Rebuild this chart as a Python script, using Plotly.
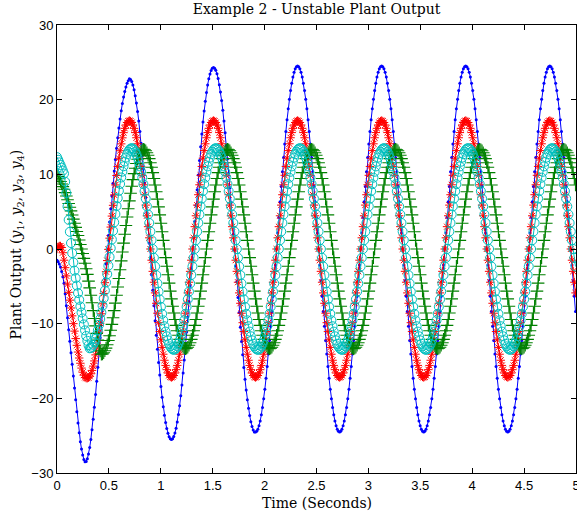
import plotly.graph_objects as go

# Sample times (seconds)
time_s = [
    0.0, 0.01125, 0.0225, 0.03375, 0.045, 0.05625, 0.0675, 0.07875,
    0.09, 0.10125, 0.1125, 0.12375, 0.135, 0.14625, 0.1575, 0.16875,
    0.18, 0.19125, 0.2025, 0.21375, 0.225, 0.23625, 0.2475, 0.25875,
    0.27, 0.28125, 0.2925, 0.30375, 0.315, 0.32625, 0.3375, 0.34875,
    0.36, 0.37125, 0.3825, 0.39375, 0.405, 0.41625, 0.4275, 0.43875,
    0.45, 0.46125, 0.4725, 0.48375, 0.495, 0.50625, 0.5175, 0.52875,
    0.54, 0.55125, 0.5625, 0.57375, 0.585, 0.59625, 0.6075, 0.61875,
    0.63, 0.64125, 0.6525, 0.66375, 0.675, 0.68625, 0.6975, 0.70875,
    0.72, 0.73125, 0.7425, 0.75375, 0.765, 0.77625, 0.7875, 0.79875,
    0.81, 0.82125, 0.8325, 0.84375, 0.855, 0.86625, 0.8775, 0.88875,
    0.9, 0.91125, 0.9225, 0.93375, 0.945, 0.95625, 0.9675, 0.97875,
    0.99, 1.00125, 1.0125, 1.02375, 1.035, 1.04625, 1.0575, 1.06875,
    1.08, 1.09125, 1.1025, 1.11375, 1.125, 1.13625, 1.1475, 1.15875,
    1.17, 1.18125, 1.1925, 1.20375, 1.215, 1.22625, 1.2375, 1.24875,
    1.26, 1.27125, 1.2825, 1.29375, 1.305, 1.31625, 1.3275, 1.33875,
    1.35, 1.36125, 1.3725, 1.38375, 1.395, 1.40625, 1.4175, 1.42875,
    1.44, 1.45125, 1.4625, 1.47375, 1.485, 1.49625, 1.5075, 1.51875,
    1.53, 1.54125, 1.5525, 1.56375, 1.575, 1.58625, 1.5975, 1.60875,
    1.62, 1.63125, 1.6425, 1.65375, 1.665, 1.67625, 1.6875, 1.69875,
    1.71, 1.72125, 1.7325, 1.74375, 1.755, 1.76625, 1.7775, 1.78875,
    1.8, 1.81125, 1.8225, 1.83375, 1.845, 1.85625, 1.8675, 1.87875,
    1.89, 1.90125, 1.9125, 1.92375, 1.935, 1.94625, 1.9575, 1.96875,
    1.98, 1.99125, 2.0025, 2.01375, 2.025, 2.03625, 2.0475, 2.05875,
    2.07, 2.08125, 2.0925, 2.10375, 2.115, 2.12625, 2.1375, 2.14875,
    2.16, 2.17125, 2.1825, 2.19375, 2.205, 2.21625, 2.2275, 2.23875,
    2.25, 2.26125, 2.2725, 2.28375, 2.295, 2.30625, 2.3175, 2.32875,
    2.34, 2.35125, 2.3625, 2.37375, 2.385, 2.39625, 2.4075, 2.41875,
    2.43, 2.44125, 2.4525, 2.46375, 2.475, 2.48625, 2.4975, 2.50875,
    2.52, 2.53125, 2.5425, 2.55375, 2.565, 2.57625, 2.5875, 2.59875,
    2.61, 2.62125, 2.6325, 2.64375, 2.655, 2.66625, 2.6775, 2.68875,
    2.7, 2.71125, 2.7225, 2.73375, 2.745, 2.75625, 2.7675, 2.77875,
    2.79, 2.80125, 2.8125, 2.82375, 2.835, 2.84625, 2.8575, 2.86875,
    2.88, 2.89125, 2.9025, 2.91375, 2.925, 2.93625, 2.9475, 2.95875,
    2.97, 2.98125, 2.9925, 3.00375, 3.015, 3.02625, 3.0375, 3.04875,
    3.06, 3.07125, 3.0825, 3.09375, 3.105, 3.11625, 3.1275, 3.13875,
    3.15, 3.16125, 3.1725, 3.18375, 3.195, 3.20625, 3.2175, 3.22875,
    3.24, 3.25125, 3.2625, 3.27375, 3.285, 3.29625, 3.3075, 3.31875,
    3.33, 3.34125, 3.3525, 3.36375, 3.375, 3.38625, 3.3975, 3.40875,
    3.42, 3.43125, 3.4425, 3.45375, 3.465, 3.47625, 3.4875, 3.49875,
    3.51, 3.52125, 3.5325, 3.54375, 3.555, 3.56625, 3.5775, 3.58875,
    3.6, 3.61125, 3.6225, 3.63375, 3.645, 3.65625, 3.6675, 3.67875,
    3.69, 3.70125, 3.7125, 3.72375, 3.735, 3.74625, 3.7575, 3.76875,
    3.78, 3.79125, 3.8025, 3.81375, 3.825, 3.83625, 3.8475, 3.85875,
    3.87, 3.88125, 3.8925, 3.90375, 3.915, 3.92625, 3.9375, 3.94875,
    3.96, 3.97125, 3.9825, 3.99375, 4.005, 4.01625, 4.0275, 4.03875,
    4.05, 4.06125, 4.0725, 4.08375, 4.095, 4.10625, 4.1175, 4.12875,
    4.14, 4.15125, 4.1625, 4.17375, 4.185, 4.19625, 4.2075, 4.21875,
    4.23, 4.24125, 4.2525, 4.26375, 4.275, 4.28625, 4.2975, 4.30875,
    4.32, 4.33125, 4.3425, 4.35375, 4.365, 4.37625, 4.3875, 4.39875,
    4.41, 4.42125, 4.4325, 4.44375, 4.455, 4.46625, 4.4775, 4.48875,
    4.5, 4.51125, 4.5225, 4.53375, 4.545, 4.55625, 4.5675, 4.57875,
    4.59, 4.60125, 4.6125, 4.62375, 4.635, 4.64625, 4.6575, 4.66875,
    4.68, 4.69125, 4.7025, 4.71375, 4.725, 4.73625, 4.7475, 4.75875,
    4.77, 4.78125, 4.7925, 4.80375, 4.815, 4.82625, 4.8375, 4.84875,
    4.86, 4.87125, 4.8825, 4.89375, 4.905, 4.91625, 4.9275, 4.93875,
    4.95, 4.96125, 4.9725, 4.98375, 4.995,
]

# y1 (blue, dots)
y1 = [
    -1.5, -1.7, -2.0, -2.4, -3.0, -3.7, -4.6, -6.0, -7.6, -9.2, -10.8, -12.35, -13.9,
    -15.45, -17.0, -18.6, -20.2, -21.8, -23.3, -24.6, -25.8, -26.8, -27.6, -28.2, -28.5,
    -28.45, -28.1, -27.45, -26.6, -25.5, -24.2, -22.8, -21.2, -19.5, -17.7, -15.85, -13.9,
    -11.9, -9.9, -7.9, -5.9, -3.95, -2.0, -0.1, 1.8, 3.6, 5.4, 7.1, 8.8, 10.45, 12.0,
    13.5, 14.9, 16.2, 17.4, 18.5, 19.5, 20.35, 21.1, 21.7, 22.2, 22.55, 22.8,
    22.71, 22.43, 21.98, 21.34, 20.54, 19.56, 18.43, 17.15, 15.73, 14.17, 12.5, 10.73,
    8.86, 6.91, 4.9, 2.84, 0.76, -1.35,
    -3.46, -5.54, -7.6, -9.61, -11.56, -13.43, -15.2, -16.87, -18.43, -19.85, -21.13,
    -22.26, -23.24, -24.04, -24.68, -25.13, -25.41, -25.5,
    -25.41, -25.12, -24.65, -24.0, -23.17, -22.16, -21.0, -19.67, -18.21, -16.61, -14.88,
    -13.05, -11.12, -9.12, -7.04, -4.92, -2.77, -0.6,
    1.57, 3.72, 5.84, 7.92, 9.92, 11.85, 13.68, 15.41, 17.01, 18.47, 19.8, 20.96, 21.97,
    22.8, 23.45, 23.92, 24.21, 24.3,
    24.21, 23.93, 23.47, 22.83, 22.01, 21.02, 19.88, 18.58, 17.14, 15.57, 13.87, 12.08,
    10.18, 8.21, 6.18, 4.09, 1.98, -0.15,
    -2.28, -4.39, -6.48, -8.51, -10.48, -12.38, -14.17, -15.87, -17.44, -18.88, -20.18,
    -21.32, -22.31, -23.13, -23.77, -24.23, -24.51,
    -24.5,
    -24.41, -24.13, -23.66, -23.02, -22.2, -21.22, -20.07, -18.77, -17.32, -15.75, -14.05, -12.25, -10.35, -8.38, -6.34, -4.25, -2.14, 0.0,
    2.14, 4.25, 6.34, 8.38, 10.35, 12.25, 14.05, 15.75, 17.32, 18.77, 20.07, 21.22, 22.2, 23.02, 23.66, 24.13, 24.41,
    24.5, 24.41, 24.13, 23.66, 23.02, 22.2, 21.22, 20.07, 18.77, 17.32, 15.75, 14.05, 12.25, 10.35, 8.38, 6.34, 4.25, 2.14, 0.0,
    -2.14, -4.25, -6.34, -8.38, -10.35, -12.25, -14.05, -15.75, -17.32, -18.77, -20.07, -21.22, -22.2, -23.02, -23.66, -24.13, -24.41, -24.5,
    -24.41, -24.13, -23.66, -23.02, -22.2, -21.22, -20.07, -18.77, -17.32, -15.75, -14.05, -12.25, -10.35, -8.38, -6.34, -4.25, -2.14, 0.0,
    2.14, 4.25, 6.34, 8.38, 10.35, 12.25, 14.05, 15.75, 17.32, 18.77, 20.07, 21.22, 22.2, 23.02, 23.66, 24.13, 24.41,
    24.5, 24.41, 24.13, 23.66, 23.02, 22.2, 21.22, 20.07, 18.77, 17.32, 15.75, 14.05, 12.25, 10.35, 8.38, 6.34, 4.25, 2.14, 0.0,
    -2.14, -4.25, -6.34, -8.38, -10.35, -12.25, -14.05, -15.75, -17.32, -18.77, -20.07, -21.22, -22.2, -23.02, -23.66, -24.13, -24.41, -24.5,
    -24.41, -24.13, -23.66, -23.02, -22.2, -21.22, -20.07, -18.77, -17.32, -15.75, -14.05, -12.25, -10.35, -8.38, -6.34, -4.25, -2.14, 0.0,
    2.14, 4.25, 6.34, 8.38, 10.35, 12.25, 14.05, 15.75, 17.32, 18.77, 20.07, 21.22, 22.2, 23.02, 23.66, 24.13, 24.41,
    24.5, 24.41, 24.13, 23.66, 23.02, 22.2, 21.22, 20.07, 18.77, 17.32, 15.75, 14.05, 12.25, 10.35, 8.38, 6.34, 4.25, 2.14, 0.0,
    -2.14, -4.25, -6.34, -8.38, -10.35, -12.25, -14.05, -15.75, -17.32, -18.77, -20.07, -21.22, -22.2, -23.02, -23.66, -24.13, -24.41, -24.5,
    -24.41, -24.13, -23.66, -23.02, -22.2, -21.22, -20.07, -18.77, -17.32, -15.75, -14.05, -12.25, -10.35, -8.38, -6.34, -4.25, -2.14, 0.0,
    2.14, 4.25, 6.34, 8.38, 10.35, 12.25, 14.05, 15.75, 17.32, 18.77, 20.07, 21.22, 22.2, 23.02, 23.66, 24.13, 24.41,
    24.5, 24.41, 24.13, 23.66, 23.02, 22.2, 21.22, 20.07, 18.77, 17.32, 15.75, 14.05, 12.25, 10.35, 8.38, 6.34, 4.25, 2.14, 0.0,
    -2.14, -4.25, -6.34, -8.38,
]

# y2 (red, asterisks)
y2 = [
    0.0, 0.3, 0.4, 0.4, 0.2, -0.5, -1.5, -2.5, -3.6, -4.7, -5.8, -6.85, -7.9, -8.95, -10.0,
    -11.0, -12.0, -12.9, -13.8, -14.6, -15.3, -15.95, -16.5, -16.9, -17.2, -17.3, -17.3,
    -17.23, -17.04, -16.71, -16.26, -15.68, -14.99, -14.18, -13.26, -12.25, -11.14, -9.94,
    -8.68, -7.34, -5.95, -4.51, -3.04, -1.55, -0.05,
    1.45, 2.94, 4.41, 5.85, 7.24, 8.58, 9.84, 11.04, 12.15, 13.16, 14.08, 14.89, 15.58,
    16.16, 16.61, 16.94, 17.13,
    17.2, 17.13, 16.94, 16.61, 16.16, 15.59, 14.9, 14.09, 13.18, 12.16, 11.06, 9.87, 8.6, 7.27, 5.88, 4.45, 2.99, 1.5, 0.0,
    -1.5, -2.99, -4.45, -5.88, -7.27, -8.6, -9.87, -11.06, -12.16, -13.18, -14.09, -14.9, -15.59, -16.16, -16.61, -16.94, -17.13, -17.2,
    -17.13, -16.94, -16.61, -16.16, -15.59, -14.9, -14.09, -13.18, -12.16, -11.06, -9.87, -8.6, -7.27, -5.88, -4.45, -2.99, -1.5, 0.0,
    1.5, 2.99, 4.45, 5.88, 7.27, 8.6, 9.87, 11.06, 12.16, 13.18, 14.09, 14.9, 15.59, 16.16, 16.61, 16.94, 17.13,
    17.2, 17.13, 16.94, 16.61, 16.16, 15.59, 14.9, 14.09, 13.18, 12.16, 11.06, 9.87, 8.6, 7.27, 5.88, 4.45, 2.99, 1.5, 0.0,
    -1.5, -2.99, -4.45, -5.88, -7.27, -8.6, -9.87, -11.06, -12.16, -13.18, -14.09, -14.9, -15.59, -16.16, -16.61, -16.94, -17.13, -17.2,
    -17.13, -16.94, -16.61, -16.16, -15.59, -14.9, -14.09, -13.18, -12.16, -11.06, -9.87, -8.6, -7.27, -5.88, -4.45, -2.99, -1.5, 0.0,
    1.5, 2.99, 4.45, 5.88, 7.27, 8.6, 9.87, 11.06, 12.16, 13.18, 14.09, 14.9, 15.59, 16.16, 16.61, 16.94, 17.13,
    17.2, 17.13, 16.94, 16.61, 16.16, 15.59, 14.9, 14.09, 13.18, 12.16, 11.06, 9.87, 8.6, 7.27, 5.88, 4.45, 2.99, 1.5, 0.0,
    -1.5, -2.99, -4.45, -5.88, -7.27, -8.6, -9.87, -11.06, -12.16, -13.18, -14.09, -14.9, -15.59, -16.16, -16.61, -16.94, -17.13, -17.2,
    -17.13, -16.94, -16.61, -16.16, -15.59, -14.9, -14.09, -13.18, -12.16, -11.06, -9.87, -8.6, -7.27, -5.88, -4.45, -2.99, -1.5, 0.0,
    1.5, 2.99, 4.45, 5.88, 7.27, 8.6, 9.87, 11.06, 12.16, 13.18, 14.09, 14.9, 15.59, 16.16, 16.61, 16.94, 17.13,
    17.2, 17.13, 16.94, 16.61, 16.16, 15.59, 14.9, 14.09, 13.18, 12.16, 11.06, 9.87, 8.6, 7.27, 5.88, 4.45, 2.99, 1.5, 0.0,
    -1.5, -2.99, -4.45, -5.88, -7.27, -8.6, -9.87, -11.06, -12.16, -13.18, -14.09, -14.9, -15.59, -16.16, -16.61, -16.94, -17.13, -17.2,
    -17.13, -16.94, -16.61, -16.16, -15.59, -14.9, -14.09, -13.18, -12.16, -11.06, -9.87, -8.6, -7.27, -5.88, -4.45, -2.99, -1.5, 0.0,
    1.5, 2.99, 4.45, 5.88, 7.27, 8.6, 9.87, 11.06, 12.16, 13.18, 14.09, 14.9, 15.59, 16.16, 16.61, 16.94, 17.13,
    17.2, 17.13, 16.94, 16.61, 16.16, 15.59, 14.9, 14.09, 13.18, 12.16, 11.06, 9.87, 8.6, 7.27, 5.88, 4.45, 2.99, 1.5, 0.0,
    -1.5, -2.99, -4.45, -5.88, -7.27, -8.6, -9.87, -11.06, -12.16, -13.18, -14.09, -14.9, -15.59, -16.16, -16.61, -16.94, -17.13, -17.2,
    -17.13, -16.94, -16.61, -16.16, -15.59, -14.9, -14.09, -13.18, -12.16, -11.06, -9.87, -8.6, -7.27, -5.88, -4.45, -2.99, -1.5, 0.0,
    1.5, 2.99, 4.45, 5.88, 7.27, 8.6, 9.87, 11.06, 12.16, 13.18, 14.09, 14.9, 15.59, 16.16, 16.61, 16.94, 17.13,
    17.2, 17.13, 16.94, 16.61, 16.16, 15.59, 14.9, 14.09, 13.18, 12.16, 11.06, 9.87, 8.6, 7.27, 5.88, 4.45, 2.99, 1.5, 0.0,
    -1.5, -2.99, -4.45, -5.88,
]

# y3 (green, plus signs)
y3 = [
    10.0, 9.7, 9.4, 9.05, 8.7, 8.35, 8.0, 7.55, 7.1, 6.6, 6.1, 5.6, 5.1, 4.55, 4.0, 3.45,
    2.9, 2.35, 1.8, 1.2, 0.6, 0.0, -0.6, -1.25, -1.9, -2.65, -3.4, -4.3, -5.2, -6.2, -7.2,
    -8.25, -9.3, -10.3, -11.3, -12.2, -13.0, -13.65, -14.1,
    -14.05, -13.89, -13.63, -13.27, -12.82, -12.26, -11.62, -10.89, -10.09, -9.21, -8.26,
    -7.25, -6.19, -5.09, -3.95, -2.78, -1.59, -0.4,
    0.79, 1.98, 3.15, 4.29, 5.39, 6.45, 7.46, 8.41, 9.29, 10.09, 10.82, 11.46, 12.02,
    12.47, 12.83, 13.09, 13.25,
    13.35, 13.3, 13.15, 12.89, 12.55, 12.1, 11.56, 10.94, 10.23, 9.44, 8.58, 7.66, 6.68, 5.64, 4.57, 3.45, 2.32, 1.16, 0.0,
    -1.16, -2.32, -3.45, -4.57, -5.64, -6.68, -7.66, -8.58, -9.44, -10.23, -10.94, -11.56, -12.1, -12.55, -12.89, -13.15, -13.3, -13.35,
    -13.3, -13.15, -12.89, -12.55, -12.1, -11.56, -10.94, -10.23, -9.44, -8.58, -7.66, -6.68, -5.64, -4.57, -3.45, -2.32, -1.16, 0.0,
    1.16, 2.32, 3.45, 4.57, 5.64, 6.68, 7.66, 8.58, 9.44, 10.23, 10.94, 11.56, 12.1, 12.55, 12.89, 13.15, 13.3,
    13.35, 13.3, 13.15, 12.89, 12.55, 12.1, 11.56, 10.94, 10.23, 9.44, 8.58, 7.66, 6.68, 5.64, 4.57, 3.45, 2.32, 1.16, 0.0,
    -1.16, -2.32, -3.45, -4.57, -5.64, -6.68, -7.66, -8.58, -9.44, -10.23, -10.94, -11.56, -12.1, -12.55, -12.89, -13.15, -13.3, -13.35,
    -13.3, -13.15, -12.89, -12.55, -12.1, -11.56, -10.94, -10.23, -9.44, -8.58, -7.66, -6.68, -5.64, -4.57, -3.45, -2.32, -1.16, 0.0,
    1.16, 2.32, 3.45, 4.57, 5.64, 6.68, 7.66, 8.58, 9.44, 10.23, 10.94, 11.56, 12.1, 12.55, 12.89, 13.15, 13.3,
    13.35, 13.3, 13.15, 12.89, 12.55, 12.1, 11.56, 10.94, 10.23, 9.44, 8.58, 7.66, 6.68, 5.64, 4.57, 3.45, 2.32, 1.16, 0.0,
    -1.16, -2.32, -3.45, -4.57, -5.64, -6.68, -7.66, -8.58, -9.44, -10.23, -10.94, -11.56, -12.1, -12.55, -12.89, -13.15, -13.3, -13.35,
    -13.3, -13.15, -12.89, -12.55, -12.1, -11.56, -10.94, -10.23, -9.44, -8.58, -7.66, -6.68, -5.64, -4.57, -3.45, -2.32, -1.16, 0.0,
    1.16, 2.32, 3.45, 4.57, 5.64, 6.68, 7.66, 8.58, 9.44, 10.23, 10.94, 11.56, 12.1, 12.55, 12.89, 13.15, 13.3,
    13.35, 13.3, 13.15, 12.89, 12.55, 12.1, 11.56, 10.94, 10.23, 9.44, 8.58, 7.66, 6.68, 5.64, 4.57, 3.45, 2.32, 1.16, 0.0,
    -1.16, -2.32, -3.45, -4.57, -5.64, -6.68, -7.66, -8.58, -9.44, -10.23, -10.94, -11.56, -12.1, -12.55, -12.89, -13.15, -13.3, -13.35,
    -13.3, -13.15, -12.89, -12.55, -12.1, -11.56, -10.94, -10.23, -9.44, -8.58, -7.66, -6.68, -5.64, -4.57, -3.45, -2.32, -1.16, 0.0,
    1.16, 2.32, 3.45, 4.57, 5.64, 6.68, 7.66, 8.58, 9.44, 10.23, 10.94, 11.56, 12.1, 12.55, 12.89, 13.15, 13.3,
    13.35, 13.3, 13.15, 12.89, 12.55, 12.1, 11.56, 10.94, 10.23, 9.44, 8.58, 7.66, 6.68, 5.64, 4.57, 3.45, 2.32, 1.16, 0.0,
    -1.16, -2.32, -3.45, -4.57, -5.64, -6.68, -7.66, -8.58, -9.44, -10.23, -10.94, -11.56, -12.1, -12.55, -12.89, -13.15, -13.3, -13.35,
    -13.3, -13.15, -12.89, -12.55, -12.1, -11.56, -10.94, -10.23, -9.44, -8.58, -7.66, -6.68, -5.64, -4.57, -3.45, -2.32, -1.16, 0.0,
    1.16, 2.32, 3.45, 4.57, 5.64, 6.68, 7.66, 8.58, 9.44, 10.23, 10.94, 11.56, 12.1, 12.55, 12.89, 13.15, 13.3,
    13.35, 13.3, 13.15, 12.89, 12.55, 12.1, 11.56, 10.94, 10.23, 9.44, 8.58,
]

# y4 (cyan, circles)
y4 = [
    12.3, 11.95, 11.6, 11.25, 10.9, 10.5, 10.1, 9.0, 7.5, 5.7, 3.9, 2.3, 0.8, -0.55, -1.8,
    -2.9, -3.9, -4.9, -5.9, -6.8, -7.7, -8.5, -9.3, -10.1, -10.9, -11.65, -12.3, -12.9, -13.3,
    -13.25, -13.1, -12.84, -12.49, -12.04, -11.5, -10.88, -10.16, -9.38, -8.51, -7.59, -6.6,
    -5.56, -4.48, -3.37, -2.23, -1.07, 0.1,
    1.27, 2.43, 3.57, 4.68, 5.76, 6.8, 7.79, 8.71, 9.58, 10.36, 11.08, 11.7, 12.24, 12.69,
    13.04, 13.3, 13.45,
    13.5, 13.45, 13.29, 13.04, 12.69, 12.24, 11.69, 11.06, 10.34, 9.55, 8.68, 7.74, 6.75, 5.71, 4.62, 3.49, 2.34, 1.18, 0.0,
    -1.18, -2.34, -3.49, -4.62, -5.71, -6.75, -7.74, -8.68, -9.55, -10.34, -11.06, -11.69, -12.24, -12.69, -13.04, -13.29, -13.45, -13.5,
    -13.45, -13.29, -13.04, -12.69, -12.24, -11.69, -11.06, -10.34, -9.55, -8.68, -7.74, -6.75, -5.71, -4.62, -3.49, -2.34, -1.18, 0.0,
    1.18, 2.34, 3.49, 4.62, 5.71, 6.75, 7.74, 8.68, 9.55, 10.34, 11.06, 11.69, 12.24, 12.69, 13.04, 13.29, 13.45,
    13.5, 13.45, 13.29, 13.04, 12.69, 12.24, 11.69, 11.06, 10.34, 9.55, 8.68, 7.74, 6.75, 5.71, 4.62, 3.49, 2.34, 1.18, 0.0,
    -1.18, -2.34, -3.49, -4.62, -5.71, -6.75, -7.74, -8.68, -9.55, -10.34, -11.06, -11.69, -12.24, -12.69, -13.04, -13.29, -13.45, -13.5,
    -13.45, -13.29, -13.04, -12.69, -12.24, -11.69, -11.06, -10.34, -9.55, -8.68, -7.74, -6.75, -5.71, -4.62, -3.49, -2.34, -1.18, 0.0,
    1.18, 2.34, 3.49, 4.62, 5.71, 6.75, 7.74, 8.68, 9.55, 10.34, 11.06, 11.69, 12.24, 12.69, 13.04, 13.29, 13.45,
    13.5, 13.45, 13.29, 13.04, 12.69, 12.24, 11.69, 11.06, 10.34, 9.55, 8.68, 7.74, 6.75, 5.71, 4.62, 3.49, 2.34, 1.18, 0.0,
    -1.18, -2.34, -3.49, -4.62, -5.71, -6.75, -7.74, -8.68, -9.55, -10.34, -11.06, -11.69, -12.24, -12.69, -13.04, -13.29, -13.45, -13.5,
    -13.45, -13.29, -13.04, -12.69, -12.24, -11.69, -11.06, -10.34, -9.55, -8.68, -7.74, -6.75, -5.71, -4.62, -3.49, -2.34, -1.18, 0.0,
    1.18, 2.34, 3.49, 4.62, 5.71, 6.75, 7.74, 8.68, 9.55, 10.34, 11.06, 11.69, 12.24, 12.69, 13.04, 13.29, 13.45,
    13.5, 13.45, 13.29, 13.04, 12.69, 12.24, 11.69, 11.06, 10.34, 9.55, 8.68, 7.74, 6.75, 5.71, 4.62, 3.49, 2.34, 1.18, 0.0,
    -1.18, -2.34, -3.49, -4.62, -5.71, -6.75, -7.74, -8.68, -9.55, -10.34, -11.06, -11.69, -12.24, -12.69, -13.04, -13.29, -13.45, -13.5,
    -13.45, -13.29, -13.04, -12.69, -12.24, -11.69, -11.06, -10.34, -9.55, -8.68, -7.74, -6.75, -5.71, -4.62, -3.49, -2.34, -1.18, 0.0,
    1.18, 2.34, 3.49, 4.62, 5.71, 6.75, 7.74, 8.68, 9.55, 10.34, 11.06, 11.69, 12.24, 12.69, 13.04, 13.29, 13.45,
    13.5, 13.45, 13.29, 13.04, 12.69, 12.24, 11.69, 11.06, 10.34, 9.55, 8.68, 7.74, 6.75, 5.71, 4.62, 3.49, 2.34, 1.18, 0.0,
    -1.18, -2.34, -3.49, -4.62, -5.71, -6.75, -7.74, -8.68, -9.55, -10.34, -11.06, -11.69, -12.24, -12.69, -13.04, -13.29, -13.45, -13.5,
    -13.45, -13.29, -13.04, -12.69, -12.24, -11.69, -11.06, -10.34, -9.55, -8.68, -7.74, -6.75, -5.71, -4.62, -3.49, -2.34, -1.18, 0.0,
    1.18, 2.34, 3.49, 4.62, 5.71, 6.75, 7.74, 8.68, 9.55, 10.34, 11.06, 11.69, 12.24, 12.69, 13.04, 13.29, 13.45,
    13.5, 13.45, 13.29, 13.04, 12.69, 12.24, 11.69, 11.06, 10.34, 9.55, 8.68, 7.74, 6.75, 5.71, 4.62, 3.49, 2.34, 1.18, 0.0,
    -1.18, -2.34,
]

x_ticks = [0, 0.5, 1, 1.5, 2, 2.5, 3, 3.5, 4, 4.5, 5]
x_tick_labels = ["0", "0.5", "1", "1.5", "2", "2.5", "3", "3.5", "4", "4.5", "5"]
y_ticks = [-30, -20, -10, 0, 10, 20, 30]
y_tick_labels = ["\u221230", "\u221220", "\u221210", "0", "10", "20", "30"]

for name, s in (("y1", y1), ("y2", y2), ("y3", y3), ("y4", y4)):
    assert len(s) == len(time_s), (name, len(s), len(time_s))

SERIF = "DejaVu Serif, Liberation Serif, serif"

fig = go.Figure()
fig.add_trace(go.Scatter(x=time_s, y=y1, mode="lines+markers",
                         line=dict(color="#0000FF", width=1),
                         marker=dict(symbol="circle", size=3, color="#0000FF")))
fig.add_trace(go.Scatter(x=time_s, y=y2, mode="lines+markers",
                         line=dict(color="#FF0000", width=1),
                         marker=dict(symbol="asterisk-open", size=7,
                                     line=dict(color="#FF0000", width=1))))
fig.add_trace(go.Scatter(x=time_s, y=y3, mode="lines+markers",
                         line=dict(color="#008000", width=1),
                         marker=dict(symbol="cross-thin-open", size=9,
                                     line=dict(color="#008000", width=1.1))))
fig.add_trace(go.Scatter(x=time_s, y=y4, mode="lines+markers",
                         line=dict(color="#00BFBF", width=1),
                         marker=dict(symbol="circle-open", size=9,
                                     line=dict(color="#00BFBF", width=1))))

axis_common = dict(showline=True, linecolor="black", linewidth=1, mirror="ticks",
                   ticks="inside", ticklen=5, tickcolor="black", showgrid=False,
                   zeroline=False, automargin=False, ticklabeloverflow="allow",
                   tickfont=dict(family="Liberation Sans, Arial, sans-serif", size=13,
                                 color="black"))

fig.update_layout(
    width=577, height=517,
    margin=dict(l=57, r=1, t=25, b=44),
    paper_bgcolor="white", plot_bgcolor="white",
    showlegend=False,
    title=dict(text="Example 2 - Unstable Plant Output",
               font=dict(family=SERIF, size=14, color="black"),
               x=0.5, xref="paper", xanchor="center",
               y=1 - 9 / 517, yref="container", yanchor="middle"),
    xaxis=dict(range=[0, 5], tickvals=x_ticks, ticktext=x_tick_labels, **axis_common),
    yaxis=dict(range=[-30, 30], tickvals=y_ticks, ticktext=y_tick_labels, **axis_common),
)

fig.add_annotation(text="Time (Seconds)", xref="paper", yref="paper",
                   x=0.5, y=-30 / 448, xanchor="center", yanchor="middle",
                   showarrow=False,
                   font=dict(family=SERIF, size=14, color="black"))
fig.add_annotation(text="Plant Output (<i>y</i><sub>1</sub>, <i>y</i><sub>2</sub>, "
                        "<i>y</i><sub>3</sub>, <i>y</i><sub>4</sub>)",
                   xref="paper", yref="paper", x=-40 / 519, y=0.51,
                   xanchor="center", yanchor="middle", textangle=-90, showarrow=False,
                   font=dict(family=SERIF, size=14, color="black"))

fig.write_html("out.html", config={"displayModeBar": False},
               post_script="document.body.style.margin='0px';")
